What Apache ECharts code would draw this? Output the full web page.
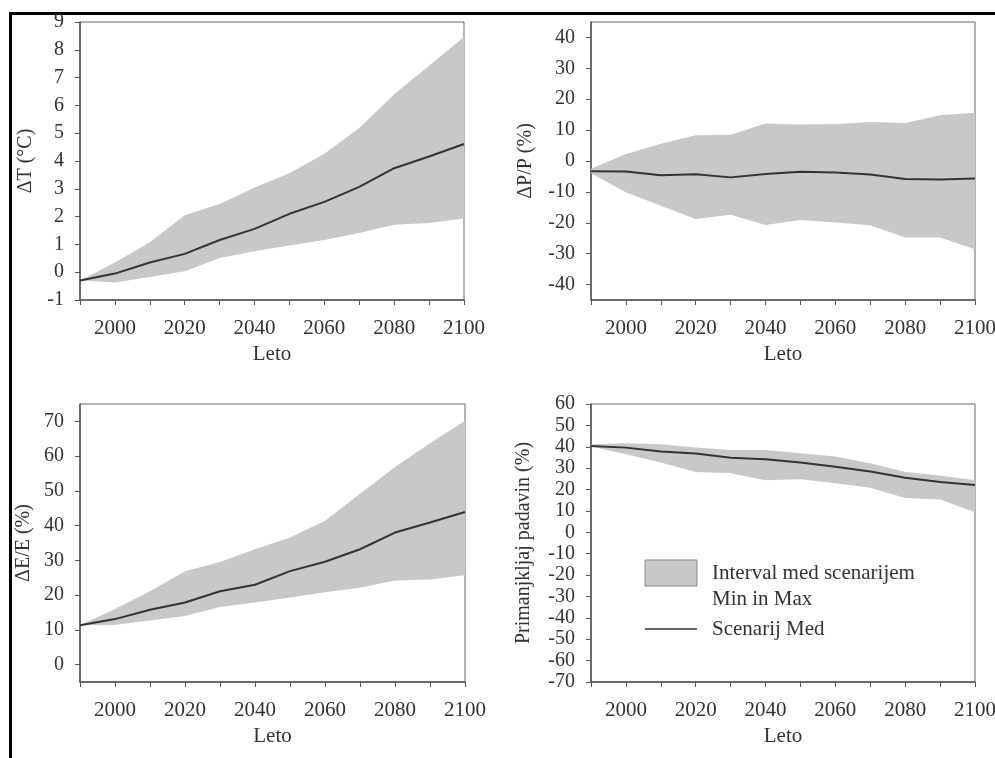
<!DOCTYPE html>
<html><head><meta charset="utf-8">
<script src="https://cdn.jsdelivr.net/npm/echarts@6/dist/echarts.min.js"></script>
<style>html,body{margin:0;padding:0;background:#fff}#c{width:995px;height:758px}</style>
</head><body><div id="c"></div>
<script>
// ---- data ----
const years = ['1990','2000','2010','2020','2030','2040','2050','2060','2070','2080','2090','2100'];
const xLabelYears = ['2000','2020','2040','2060','2080','2100'];

const tLow = [-0.3,-0.37,-0.17,0.03,0.51,0.75,0.96,1.16,1.41,1.71,1.77,1.93];
const tMed = [-0.3,-0.05,0.35,0.66,1.16,1.56,2.1,2.53,3.07,3.74,4.16,4.61];
const tHigh = [-0.3,0.35,1.08,2.05,2.45,3.05,3.56,4.26,5.19,6.4,7.43,8.46];

const pLow = [-4,-10.1,-14.5,-18.8,-17.4,-20.7,-19.1,-19.9,-20.8,-24.8,-24.8,-28.6];
const pMed = [-3.3,-3.4,-4.6,-4.3,-5.3,-4.2,-3.5,-3.7,-4.4,-5.8,-6.0,-5.7];
const pHigh = [-2.5,2.3,5.6,8.3,8.5,12.1,11.8,12.0,12.6,12.3,14.8,15.6];
const pTicks = [-40,-30,-20,-10,0,10,20,30,40];

const eLow = [11.3,11.4,12.7,14.0,16.6,17.9,19.3,20.8,22.1,24.2,24.5,25.7];
const eMed = [11.3,13.1,15.8,17.9,21.1,23.0,26.9,29.6,33.2,38.0,40.9,43.9];
const eHigh = [11.3,16.0,21.1,26.9,29.5,33.2,36.6,41.4,49.2,56.9,63.7,70.2];
const eTicks = [0,10,20,30,40,50,60,70];

const dLow = [40.1,36.5,32.6,28.2,27.6,24.3,24.8,22.9,20.8,16.1,15.4,9.4];
const dMed = [40.4,39.6,37.8,36.8,34.9,34.2,32.6,30.7,28.4,25.5,23.5,22.1];
const dHigh = [41.2,41.7,41.2,39.6,38.5,38.5,37.0,35.4,32.3,28.2,26.6,24.4];

const yNames = ['\u0394T (\u00B0C)', '\u0394P/P (%)', '\u0394E/E (%)', 'Primanjkljaj padavin (%)'];
const legendBand = ['Interval med scenarijem', 'Min in Max'];
const legendLine = 'Scenarij Med';
const xName = 'Leto';

// ---- chart ----
const FONT = 'Liberation Serif';
const TXT = '#333';
const AX = '#555';
const BAND = '#c8c8c8';

const grids = [
  {left:80, top:22, width:384, height:278},
  {left:591, top:22, width:384, height:278},
  {left:80, top:404, width:385, height:278},
  {left:591, top:404, width:384, height:278}
].map(g => Object.assign(g, {show:true, borderColor:'#666', borderWidth:1, backgroundColor:'transparent',
                             containLabel:false, outerBoundsMode:'none'}));

const yCfg = [
  {min:-1, max:9, interval:1, nameGap:44},
  {min:-45, max:45, custom:pTicks, nameGap:55},
  {min:-5, max:75, custom:eTicks, nameGap:46},
  {min:-70, max:60, interval:10, nameGap:57}
];

const xAxes = grids.map((g,i) => ({
  type:'category', gridIndex:i, data:years, boundaryGap:false,
  axisLine:{show:true, onZero:false, lineStyle:{color:AX, width:1.5}},
  axisTick:{show:true, interval:0, length:5, lineStyle:{color:AX, width:1}},
  splitLine:{show:false},
  axisLabel:{interval:(idx, val) => xLabelYears.indexOf(String(val)) >= 0,
             fontFamily:FONT, fontSize:21, color:TXT, margin:18},
  name:xName, nameLocation:'middle', nameGap:44,
  nameTextStyle:{fontFamily:FONT, fontSize:21, color:TXT}
}));

const yAxes = yCfg.map((c,i) => {
  const ax = {
    type:'value', gridIndex:i, min:c.min, max:c.max,
    axisLine:{show:true, onZero:false, lineStyle:{color:AX, width:1.5}},
    axisTick:{show:true, length:5, lineStyle:{color:AX, width:1}},
    splitLine:{show:false},
    axisLabel:{fontFamily:FONT, fontSize:20, color:TXT, margin:16, showMinLabel:true, showMaxLabel:true},
    name:yNames[i], nameLocation:'middle', nameGap:c.nameGap,
    nameTextStyle:{fontFamily:FONT, fontSize:20, color:TXT}
  };
  if (c.custom) {
    ax.axisLabel.customValues = c.custom;
    ax.axisTick.customValues = c.custom;
  } else {
    ax.interval = c.interval;
  }
  return ax;
});

const sets = [[tLow,tMed,tHigh],[pLow,pMed,pHigh],[eLow,eMed,eHigh],[dLow,dMed,dHigh]];
const series = [];
sets.forEach((s,i) => {
  const [lo, med, hi] = s;
  series.push({
    type:'line', xAxisIndex:i, yAxisIndex:i, stack:'band'+i, stackStrategy:'all',
    data: lo.slice(), symbol:'none', showSymbol:false, lineStyle:{width:0}, silent:true, z:2
  });
  series.push({
    type:'line', xAxisIndex:i, yAxisIndex:i, stack:'band'+i, stackStrategy:'all',
    data: hi.map((v,k) => +(v - lo[k]).toFixed(3)), symbol:'none', showSymbol:false, lineStyle:{width:0},
    areaStyle:{color:BAND, opacity:1}, silent:true, z:2
  });
  series.push({
    type:'line', xAxisIndex:i, yAxisIndex:i,
    data: med.slice(), symbol:'none', showSymbol:false,
    lineStyle:{color:'#333', width:2}, silent:true, z:5
  });
});

const graphic = [
  {type:'line', shape:{x1:9, y1:13.5, x2:995, y2:13.5}, style:{stroke:'#000', lineWidth:3}},
  {type:'line', shape:{x1:10.5, y1:12, x2:10.5, y2:758}, style:{stroke:'#000', lineWidth:3}},
  {type:'rect', shape:{x:645, y:560, width:52, height:26}, style:{fill:BAND, stroke:'#888', lineWidth:1}},
  {type:'text', x:712, y:573, style:{text:legendBand[0], font:'21px "Liberation Serif"', fill:TXT, textVerticalAlign:'middle'}},
  {type:'text', x:712, y:599, style:{text:legendBand[1], font:'21px "Liberation Serif"', fill:TXT, textVerticalAlign:'middle'}},
  {type:'line', shape:{x1:645, y1:629, x2:697, y2:629}, style:{stroke:'#333', lineWidth:1.5}},
  {type:'text', x:712, y:629, style:{text:legendLine, font:'21px "Liberation Serif"', fill:TXT, textVerticalAlign:'middle'}}
];

const chart = echarts.init(document.getElementById('c'), null, {renderer:'canvas'});
chart.setOption({
  animation:false,
  backgroundColor:'#fff',
  textStyle:{fontFamily:FONT},
  grid:grids, xAxis:xAxes, yAxis:yAxes, series:series, graphic:graphic
});
</script></body></html>
